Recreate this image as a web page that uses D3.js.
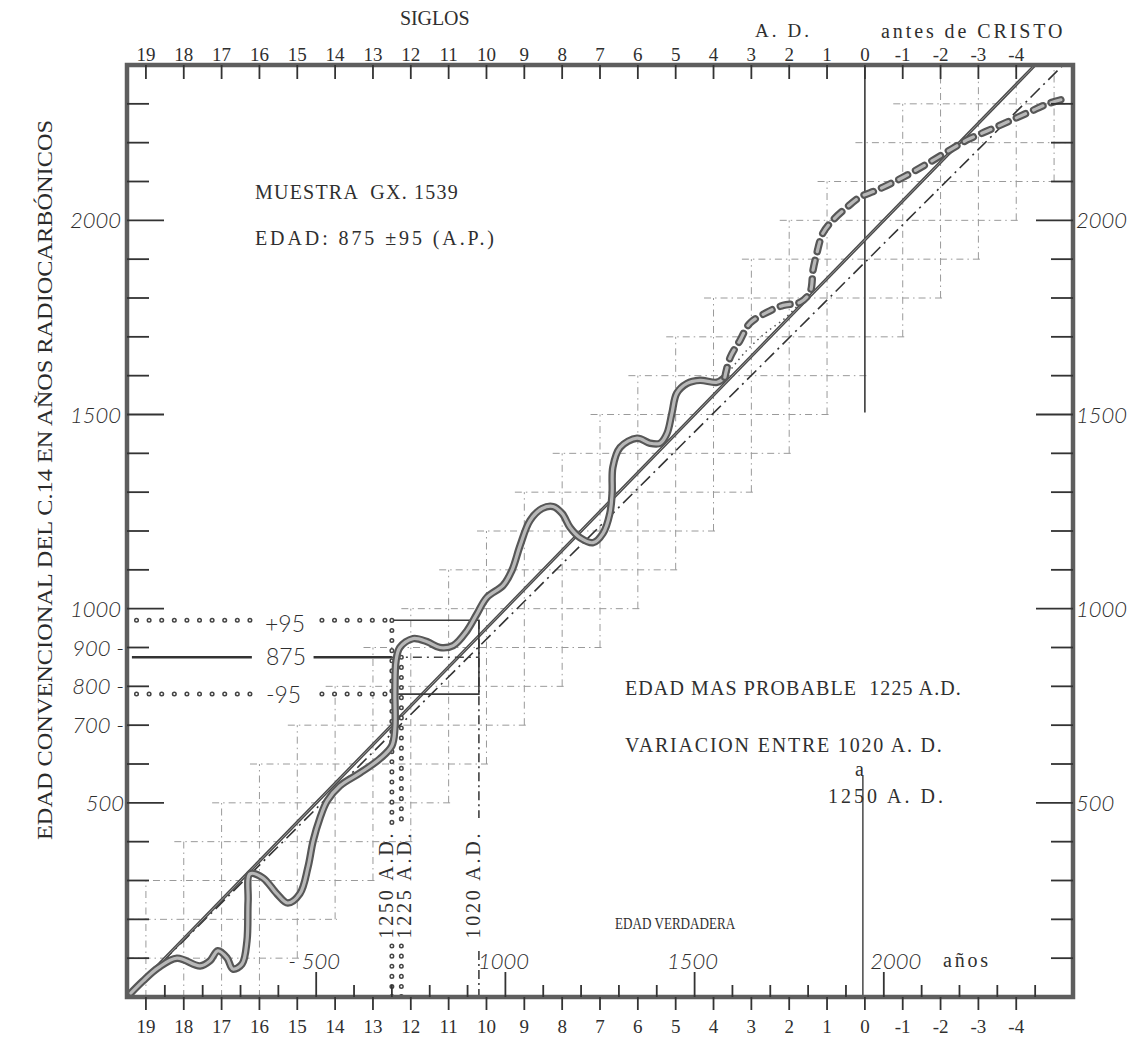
<!DOCTYPE html>
<html><head><meta charset="utf-8">
<script src="https://cdn.jsdelivr.net/npm/d3@7"></script>
<style>
body{margin:0;background:#fff;}
svg{display:block;background:#fff;}
.tw{font-family:"Liberation Serif","DejaVu Serif",serif;fill:#2f2f2f;font-size:20px;white-space:pre;}
.ital{font-family:Lato,"Open Sans",sans-serif;font-style:italic;font-weight:300;fill:#2e2e2e;font-size:22px;}
.sans{font-family:Lato,"Open Sans",sans-serif;font-weight:300;fill:#2e2e2e;font-size:23px;}
.serif{font-family:"Liberation Serif","Times New Roman",serif;fill:#2b2b2b;font-size:21px;}
</style></head><body>
<svg id="chart" width="1129" height="1039"></svg>
<script>
// ---------- data ----------
const centuryLabels = [19,18,17,16,15,14,13,12,11,10,9,8,7,6,5,4,3,2,1,0,-1,-2,-3,-4];
const trueAgeTicks = [500,1000,1500,2000];
const leftLabelValues = [2000,1500,1000,900,800,700,500];
const rightLabelValues = [2000,1500,1000,500];

// calibration curve (true age BP, radiocarbon age)
const curveBP = [10,42,82,132,193,219,240,264,280,304,317,320,325,359,396,425,457,478,492,510,529,563,616,669,700,708,708,711,721,756,793,827,862,899,925,951,994,1017,1039,1065,1097,1126,1150,1171,1197,1232,1258,1276,1282,1284,1303,1348,1382,1409,1427,1440,1453,1480,1514,1559,1580];
const curveRC = [10,41,75,100,80,93,119,101,72,85,144,247,317,307,266,242,266,333,402,461,505,544,577,614,647,693,789,866,900,923,915,900,905,944,987,1029,1060,1098,1163,1227,1258,1263,1245,1209,1183,1170,1194,1245,1297,1364,1415,1439,1426,1426,1451,1503,1555,1580,1588,1583,1596];
// dashed (uncertain) continuation
const dashBP = [1580,1594,1620,1646,1691,1734,1779,1805,1813,1823,1839,1866,1903,1937,1982,2051,2122,2183,2220,2273,2326,2378,2439,2487];
const dashRC = [1596,1647,1691,1735,1763,1781,1789,1815,1872,1915,1967,2001,2034,2060,2078,2111,2150,2186,2207,2230,2253,2276,2302,2315];
// thin dotted alternative
const altBP = [1580,1633,1686,1739,1779];
const altRC = [1596,1660,1709,1748,1787];
// reference lines
const diagBP = [0,2400], diagRC = [0,2400];
const halfBP = [0,2474], halfRC = [0,2400];

// sample
const sampleAge = 875, sampleErr = 95;
const probableAD = 1225, rangeAD = [1020,1250];

// ---------- scales ----------
const svg = d3.select("#chart");
const x = d3.scaleLinear().domain([0,2500]).range([127,1073]);
const y = d3.scaleLinear().domain([0,2400]).range([997,65]);
const adToBP = a => 1950 - a;
const pts = (a,b) => a.map((v,i)=>[v,b[i]]);
const line = d3.line().x(d=>x(d[0])).y(d=>y(d[1]));
const smooth = d3.line().x(d=>x(d[0])).y(d=>y(d[1])).curve(d3.curveCatmullRom.alpha(0.5));

// ---------- staircase grid ----------
const g = svg.append("g").attr("stroke","#9a9a9a").attr("stroke-width",1).attr("fill","none")
  .attr("stroke-dasharray","7,4,1.5,4");
y.ticks(24).filter(v=>v>0 && v<2400).forEach(r=>{
  const a = Math.max(0,r-275), b = Math.min(2500,r+355);
  g.append("line").attr("x1",x(a)).attr("x2",x(b)).attr("y1",y(r)).attr("y2",y(r));
});
centuryLabels.concat([-5]).forEach(c=>{
  if (c===0) return;
  const b = adToBP(c*100);
  const lo = Math.max(0,b-350), hi = Math.min(2400,b+250);
  g.append("line").attr("x1",x(b)).attr("x2",x(b)).attr("y1",y(lo)).attr("y2",y(hi));
});
// year-0 line
svg.append("line").attr("x1",x(1950)).attr("x2",x(1950)).attr("y1",y(2400)).attr("y2",y(1505))
  .attr("stroke","#3a3a3a").attr("stroke-width",1.6);
svg.append("line").attr("x1",x(1950)-2).attr("x2",x(1950)-2).attr("y1",y(570)).attr("y2",y(0))
  .attr("stroke","#3a3a3a").attr("stroke-width",1.4);

// ---------- reference lines ----------
svg.append("path").attr("d",line(pts(halfBP,halfRC))).attr("fill","none")
  .attr("stroke","#333").attr("stroke-width",1.6).attr("stroke-dasharray","13,5,2,5");
svg.append("path").attr("d",line(pts(diagBP,diagRC))).attr("fill","none")
  .attr("stroke","#4a4a4a").attr("stroke-width",3.2);
svg.append("path").attr("d",line(pts(diagBP,diagRC))).attr("fill","none")
  .attr("stroke","#9a9a9a").attr("stroke-width",1);

// ---------- sample lines ----------
function ringLine(x1,y1,x2,y2,gap){
  svg.append("line").attr("x1",x1).attr("y1",y1).attr("x2",x2).attr("y2",y2)
    .attr("stroke","#444").attr("stroke-width",5).attr("stroke-linecap","round").attr("stroke-dasharray",`0.1,${gap}`);
  svg.append("line").attr("x1",x1).attr("y1",y1).attr("x2",x2).attr("y2",y2)
    .attr("stroke","#fff").attr("stroke-width",2).attr("stroke-linecap","round").attr("stroke-dasharray",`0.1,${gap}`);
}
const segA=[25,325], segB=[505,700];
[sampleAge+sampleErr, sampleAge-sampleErr].forEach(v=>{
  ringLine(x(segA[0]),y(v),x(segA[1]),y(v),12.5);
  ringLine(x(segB[0]+10),y(v),x(segB[1]),y(v),12.5);
});
[segA,segB].forEach(s=>{
  svg.append("line").attr("x1",x(s[0]-12)).attr("x2",x(s[1]+(s===segA?5:0))).attr("y1",y(sampleAge)).attr("y2",y(sampleAge))
    .attr("stroke","#333").attr("stroke-width",2.4);
});
svg.append("line").attr("x1",x(adToBP(rangeAD[1]))).attr("x2",x(adToBP(rangeAD[0]))).attr("y1",y(sampleAge)).attr("y2",y(sampleAge))
  .attr("stroke","#444").attr("stroke-width",1.4).attr("stroke-dasharray","9,5,2,5");
// box
const bx1=x(adToBP(rangeAD[1])), bx2=x(adToBP(rangeAD[0]));
svg.append("path").attr("d",`M${bx1},${y(sampleAge+sampleErr)}H${bx2}V${y(sampleAge-sampleErr)}H${bx1}`)
  .attr("fill","none").attr("stroke","#3a3a3a").attr("stroke-width",1.6);
// vertical date lines (broken around the labels)
const txtTop=828, txtBot=946;
ringLine(bx1,y(sampleAge+sampleErr),bx1,txtTop,10);
ringLine(bx1,txtBot,bx1,y(0),10);
const px=x(adToBP(probableAD));
ringLine(px,y(sampleAge),px,txtTop-4,10);
ringLine(px,txtBot,px,y(0),10);
[[y(sampleAge+sampleErr),txtTop-10],[txtBot+5,y(0)]].forEach(s=>{
  svg.append("line").attr("x1",bx2).attr("x2",bx2).attr("y1",s[0]).attr("y2",s[1])
    .attr("stroke","#333").attr("stroke-width",1.5).attr("stroke-dasharray","9,4,2,4");
});

// ---------- calibration curve ----------
function band(d,dash){
  const p1=svg.append("path").attr("d",d).attr("fill","none").attr("stroke","#575757").attr("stroke-width",7.5)
    .attr("stroke-linecap","round").attr("stroke-linejoin","round");
  const p2=svg.append("path").attr("d",d).attr("fill","none").attr("stroke","#b8b8b8").attr("stroke-width",3.2)
    .attr("stroke-linecap","round").attr("stroke-linejoin","round");
  if(dash){p1.attr("stroke-dasharray",dash);p2.attr("stroke-dasharray",dash);}
}
svg.append("path").attr("d",smooth(pts(altBP,altRC))).attr("fill","none")
  .attr("stroke","#555").attr("stroke-width",1.5).attr("stroke-dasharray","1.5,4");
band(smooth(pts(curveBP,curveRC)));
band(smooth(pts(dashBP,dashRC)),"10,9");

// ---------- frame & axes ----------
svg.append("rect").attr("x",x(0)).attr("y",y(2400)).attr("width",x(2500)-x(0)).attr("height",y(0)-y(2400))
  .attr("fill","none").attr("stroke","#5e5e5e").attr("stroke-width",4.5);
const ax = svg.append("g").attr("stroke","#333").attr("stroke-width",1.8);
y.ticks(24).filter(v=>v>0 && v<2400).forEach(v=>{
  const len = v%500===0 ? 37 : 22;
  ax.append("line").attr("x1",x(0)).attr("x2",x(0)+len).attr("y1",y(v)).attr("y2",y(v));
  ax.append("line").attr("x1",x(2500)).attr("x2",x(2500)-len).attr("y1",y(v)).attr("y2",y(v));
});
x.ticks(25).filter(v=>v>0 && v<2500).forEach(v=>{
  const len = v%500===0 ? 25 : 12;
  ax.append("line").attr("x1",x(v)).attr("x2",x(v)).attr("y1",y(0)).attr("y2",y(0)-len);
});

// typewriter-like text with fixed pitch
function TW(t,xx,yy,pitch=12.1,size=20,adj="spacing"){
  const el=svg.append("text").attr("class","tw").attr("x",xx).attr("y",yy).style("font-size",size+"px").text(t);
  if(t.length>1) el.attr("textLength",t.length*pitch-3).attr("lengthAdjust",adj);
  return el;
}
centuryLabels.forEach(c=>{
  const xx = x(adToBP(c*100));
  ax.append("line").attr("x1",xx).attr("x2",xx).attr("y1",y(2400)).attr("y2",y(2400)+14);
  ax.append("line").attr("x1",xx).attr("x2",xx).attr("y1",y(0)).attr("y2",y(0)+13);
  const s=String(c);
  [61,1033].forEach(yy=>{
    svg.append("text").attr("class","tw").attr("x",xx).attr("y",yy).attr("text-anchor","middle")
      .style("font-size","19px").text(s);
  });
});
leftLabelValues.forEach(v=>{
  svg.append("text").attr("class","ital").attr("x",v<1000?124:121).attr("y",y(v)+8).attr("text-anchor","end")
    .text(v<1000 && v>500 ? v+" -" : v);
});
rightLabelValues.forEach(v=>{
  svg.append("text").attr("class","ital").attr("x",x(2500)+3).attr("y",y(v)+8).text(v);
});
trueAgeTicks.forEach(v=>{
  svg.append("text").attr("class","ital").attr("x",x(v)+(v===2000?12:-2)).attr("y",969).attr("text-anchor","middle")
    .text(v===500 ? "- 500" : v);
});

// ---------- texts ----------
TW("SIGLOS",400,25);
TW("A. D.",755,37,11.4,19);
TW("antes de CRISTO",881,38,12.3);
TW("MUESTRA  GX. 1539",255,199);
TW("EDAD: 875 ±95 (A.P.)",255,245);
TW("EDAD MAS PROBABLE  1225 A.D.",625,695);
TW("VARIACION ENTRE 1020 A. D.",625,752,12.3);
TW("a",855,776);
TW("1250 A. D.",828,803,11.8);
TW("EDAD VERDADERA",615,929,8.8,16,"spacingAndGlyphs");
TW("años",943,967,12);
svg.append("text").attr("class","sans").attr("x",265).attr("y",632).text("+"+sampleErr);
svg.append("text").attr("class","sans").attr("x",266).attr("y",665).text(sampleAge);
svg.append("text").attr("class","sans").attr("x",266).attr("y",703).text("-"+sampleErr);
[[`${rangeAD[1]} A.D.`,bx1+1],[`${probableAD} A.D.`,px+10],[`${rangeAD[0]} A.D.`,bx2+1]].forEach(d=>{
  svg.append("text").attr("class","tw").attr("text-anchor","middle")
    .attr("transform",`translate(${d[1]},886) rotate(-90)`)
    .attr("textLength",d[0].length*12-3).attr("lengthAdjust","spacing").text(d[0]);
});
svg.append("text").attr("class","serif").attr("text-anchor","middle")
  .attr("transform","translate(52,480) rotate(-90)")
  .attr("textLength",720).attr("lengthAdjust","spacingAndGlyphs")
  .text("EDAD CONVENCIONAL DEL C.14 EN AÑOS RADIOCARBÓNICOS");
</script></body></html>
